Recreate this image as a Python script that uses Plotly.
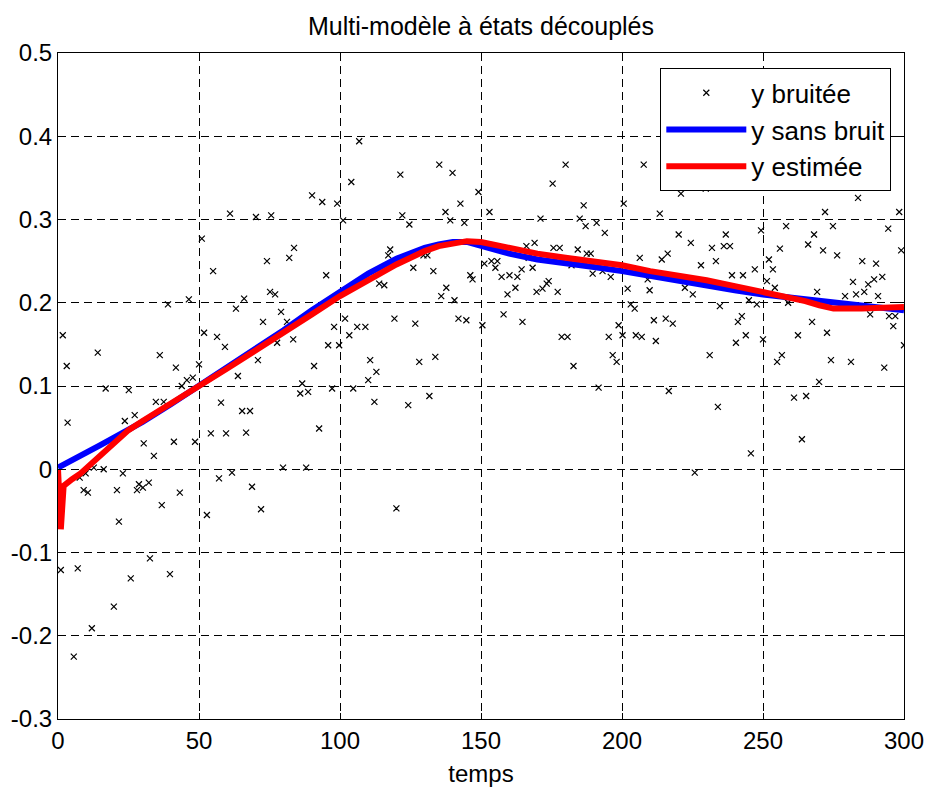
import plotly.graph_objects as go

# --- Noisy measurements (y bruitée): time, value ---
t_noise = [1.0, 1.7, 3.1, 3.4, 5.6, 7.0, 7.7, 9.1, 9.8, 10.6, 12.0, 12.7, 14.1, 16.2, 16.9, 19.8, 20.9, 21.6, 23.0, 23.7,
           25.1, 25.8, 27.2, 28.0, 28.7, 30.1, 30.4, 32.2, 32.6, 34.0, 34.7, 36.1, 36.8, 37.5, 39.0, 39.7, 41.1, 41.8, 43.2, 43.9,
           45.7, 46.4, 47.8, 48.6, 50.0, 51.0, 51.8, 52.8, 54.2, 55.0, 56.4, 57.1, 57.8, 59.2, 59.6, 61.0, 61.7, 63.1, 63.8, 65.3,
           66.0, 66.7, 68.1, 68.8, 70.2, 70.9, 72.0, 72.7, 74.1, 75.2, 75.6, 77.0, 77.7, 79.1, 79.8, 81.2, 82.0, 83.4, 83.7, 85.9,
           86.6, 88.0, 88.7, 90.1, 90.8, 92.6, 93.7, 95.1, 95.8, 97.2, 97.9, 99.0, 99.7, 101.1, 101.8, 103.3, 104.0, 104.7, 106.1, 106.8,
           109.0, 110.0, 110.7, 112.2, 112.9, 113.9, 115.7, 117.1, 117.8, 119.3, 120.0, 121.4, 122.1, 124.2, 124.6, 126.0, 126.7, 128.1, 129.6, 131.0,
           131.7, 133.1, 133.8, 135.2, 135.9, 137.4, 137.7, 139.1, 139.9, 140.6, 142.0, 142.7, 144.1, 144.8, 146.2, 147.0, 149.1, 150.5, 151.2, 153.0,
           153.7, 155.1, 155.8, 157.3, 158.0, 159.4, 160.1, 162.2, 162.9, 164.4, 164.7, 166.1, 166.9, 168.3, 169.0, 169.7, 171.1, 171.8, 173.3, 174.0,
           175.4, 175.7, 177.2, 177.9, 178.6, 180.0, 180.7, 182.1, 182.8, 184.3, 185.0, 186.4, 187.1, 187.5, 188.9, 189.6, 191.0, 191.7, 193.1, 193.9,
           195.3, 196.0, 196.7, 198.1, 198.8, 200.2, 200.6, 202.0, 203.1, 204.5, 204.9, 206.3, 207.0, 207.7, 209.1, 209.8, 211.3, 212.0, 213.4, 214.1,
           215.5, 216.2, 216.6, 218.0, 220.1, 220.9, 222.3, 224.4, 225.1, 225.8, 228.0, 229.7, 231.1, 231.9, 233.3, 234.0, 234.7, 236.1, 236.8, 238.3,
           239.0, 240.4, 241.1, 242.5, 242.9, 243.9, 245.0, 245.7, 247.1, 247.8, 249.3, 250.0, 251.4, 252.1, 253.5, 254.2, 255.0, 256.0, 256.7, 258.2,
           258.9, 261.0, 262.4, 263.8, 265.3, 266.0, 267.4, 268.1, 269.2, 269.9, 271.3, 272.0, 272.7, 274.1, 274.8, 276.3, 279.1, 281.2, 281.9, 283.0,
           283.7, 285.2, 285.9, 287.3, 288.0, 289.4, 290.1, 290.8, 292.3, 293.0, 294.4, 294.7, 296.2, 296.9, 298.3, 299.0, 300.0]
y_noise = [-0.121, 0.161, 0.124, 0.056, -0.225, -0.119, -0.010, -0.025, -0.005, -0.028, -0.191, 0.002, 0.140, 0.000, 0.097, -0.165, -0.025, -0.063, -0.005, 0.058,
           0.095, -0.131, 0.065, -0.025, -0.018, -0.022, 0.031, -0.016, -0.107, 0.016, 0.081, 0.137, -0.043, 0.081, 0.198, -0.126, 0.033, 0.122, -0.028, 0.100,
           0.107, 0.204, 0.110, 0.033, 0.126, 0.277, 0.164, -0.055, 0.043, 0.238, 0.159, -0.011, 0.080, 0.147, 0.043, 0.307, -0.004, 0.193, 0.112, 0.070,
           0.205, 0.044, 0.070, -0.021, 0.303, 0.131, -0.048, 0.177, 0.250, 0.213, 0.305, 0.210, 0.152, 0.189, 0.002, 0.177, 0.254, 0.156, 0.266, 0.091,
           0.103, 0.002, 0.093, 0.329, 0.124, 0.049, 0.321, 0.233, 0.149, 0.097, 0.171, 0.319, 0.149, 0.299, 0.181, 0.161, 0.345, 0.097, 0.171, 0.394,
           0.171, 0.107, 0.131, 0.081, 0.117, 0.223, 0.221, 0.257, 0.264, 0.181, -0.047, 0.354, 0.305, 0.077, 0.294, 0.242, 0.175, 0.129, 0.257, 0.257,
           0.088, 0.238, 0.135, 0.366, 0.208, 0.309, 0.218, 0.299, 0.356, 0.203, 0.181, 0.319, 0.296, 0.179, 0.233, 0.228, 0.333, 0.173, 0.247, 0.309,
           0.250, 0.242, 0.250, 0.231, 0.186, 0.210, 0.233, 0.218, 0.231, 0.240, 0.177, 0.268, 0.254, 0.242, 0.272, 0.213, 0.301, 0.217, 0.223, 0.226,
           0.343, 0.266, 0.213, 0.266, 0.159, 0.366, 0.159, 0.245, 0.124, 0.264, 0.301, 0.317, 0.292, 0.259, 0.259, 0.235, 0.296, 0.098, 0.238, 0.284,
           0.159, 0.231, 0.137, 0.129, 0.173, 0.161, 0.319, 0.217, 0.198, 0.193, 0.161, 0.254, 0.159, 0.366, 0.228, 0.215, 0.179, 0.154, 0.307, 0.252,
           0.181, 0.259, 0.094, 0.175, 0.282, 0.331, 0.218, 0.272, 0.210, -0.004, 0.245, 0.337, 0.137, 0.266, 0.250, 0.075, 0.196, 0.268, 0.282, 0.268,
           0.233, 0.152, 0.177, 0.184, 0.233, 0.161, 0.203, 0.019, 0.240, 0.198, 0.287, 0.156, 0.226, 0.252, 0.240, 0.218, 0.129, 0.265, 0.137, 0.292,
           0.200, 0.086, 0.161, 0.036, 0.088, 0.270, 0.177, 0.282, 0.213, 0.105, 0.263, 0.309, 0.164, 0.131, 0.292, 0.257, 0.208, 0.129, 0.225, 0.210,
           0.326, 0.250, 0.213, 0.222, 0.186, 0.228, 0.247, 0.208, 0.231, 0.122, 0.289, 0.184, 0.172, 0.184, 0.309, 0.263, 0.149]

# --- Noise-free output (y sans bruit) ---
t_clean = [0, 5, 10, 15, 20, 25, 30, 40, 50, 60, 70, 80, 90, 100, 110, 120, 130, 135, 140, 145, 150,
           160, 170, 180, 190, 200, 210, 220, 230, 240, 250, 260, 270, 280, 290, 300]
y_clean = [0.002, 0.012, 0.020, 0.029, 0.038, 0.047, 0.057, 0.078, 0.100, 0.122, 0.144, 0.167, 0.191, 0.214, 0.235, 0.253, 0.266, 0.270, 0.273, 0.273, 0.268,
           0.259, 0.252, 0.248, 0.243, 0.238, 0.232, 0.226, 0.221, 0.215, 0.210, 0.206, 0.203, 0.199, 0.195, 0.191]

# --- Estimated output (y estimée) ---
t_est = [0, 1, 2, 3, 5, 8, 10, 13, 16, 20, 25, 30, 40, 50, 60, 70, 80, 90, 100, 110, 120, 130, 135, 140, 145, 150,
         160, 170, 180, 190, 200, 210, 220, 230, 240, 250, 260, 265, 270, 275, 285, 290, 300]
y_est = [0.0, -0.072, -0.020, -0.017, -0.012, -0.005, 0.001, 0.010, 0.020, 0.033, 0.047, 0.058, 0.080, 0.100, 0.121, 0.142, 0.164, 0.186, 0.208, 0.228, 0.246, 0.262, 0.268, 0.271, 0.274, 0.273,
         0.266, 0.259, 0.254, 0.249, 0.245, 0.238, 0.233, 0.227, 0.220, 0.213, 0.206, 0.202, 0.197, 0.193, 0.193, 0.194, 0.195]

x_ticks = [0, 50, 100, 150, 200, 250, 300]
y_ticks = [-0.3, -0.2, -0.1, 0, 0.1, 0.2, 0.3, 0.4, 0.5]
y_ticktext = ["-0.3", "-0.2", "-0.1", "0", "0.1", "0.2", "0.3", "0.4", "0.5"]

FONT = "Liberation Sans, Arial, sans-serif"

fig = go.Figure()
fig.add_trace(go.Scatter(x=t_noise, y=y_noise, mode="markers", name="y bruitée", legendgroup="a",
                         marker=dict(symbol="x-thin", size=6, color="black",
                                     line=dict(width=1.2, color="black"))))
fig.add_trace(go.Scatter(x=t_clean, y=y_clean, mode="lines", name="y sans bruit", legendgroup="b",
                         line=dict(color="#0000ff", width=6)))
fig.add_trace(go.Scatter(x=t_est, y=y_est, mode="lines", name="y estimée", legendgroup="c",
                         line=dict(color="#ff0000", width=6)))

axis_common = dict(showline=True, linecolor="black", linewidth=1, mirror="ticks",
                   ticks="inside", ticklen=6, tickcolor="black", automargin=False,
                   showgrid=True, gridcolor="black", gridwidth=1, griddash="8px,5px",
                   zeroline=False, tickfont=dict(family=FONT, size=24, color="black"))

fig.update_xaxes(range=[0, 300], tickvals=x_ticks, **axis_common,
                 title=dict(text="temps", font=dict(family=FONT, size=24, color="black"), standoff=12))
fig.update_yaxes(range=[-0.3, 0.5], tickvals=y_ticks, ticktext=y_ticktext, **axis_common)

fig.update_layout(
    width=929, height=789,
    margin=dict(l=58, r=25, t=53, b=70),
    paper_bgcolor="white", plot_bgcolor="white",
    font=dict(family=FONT, color="black"),
    title=dict(text="Multi-modèle à états découplés", x=0.5, xref="paper",
               y=1 - 26 / 789, yref="container", yanchor="middle",
               font=dict(family=FONT, size=25, color="black")),
    legend=dict(x=0.985, y=0.977, xanchor="right", yanchor="top",
                bgcolor="white", bordercolor="black", borderwidth=1,
                font=dict(family=FONT, size=26, color="black"),
                itemwidth=80, tracegroupgap=0),
    showlegend=True,
)

fig.write_html("out.html")
